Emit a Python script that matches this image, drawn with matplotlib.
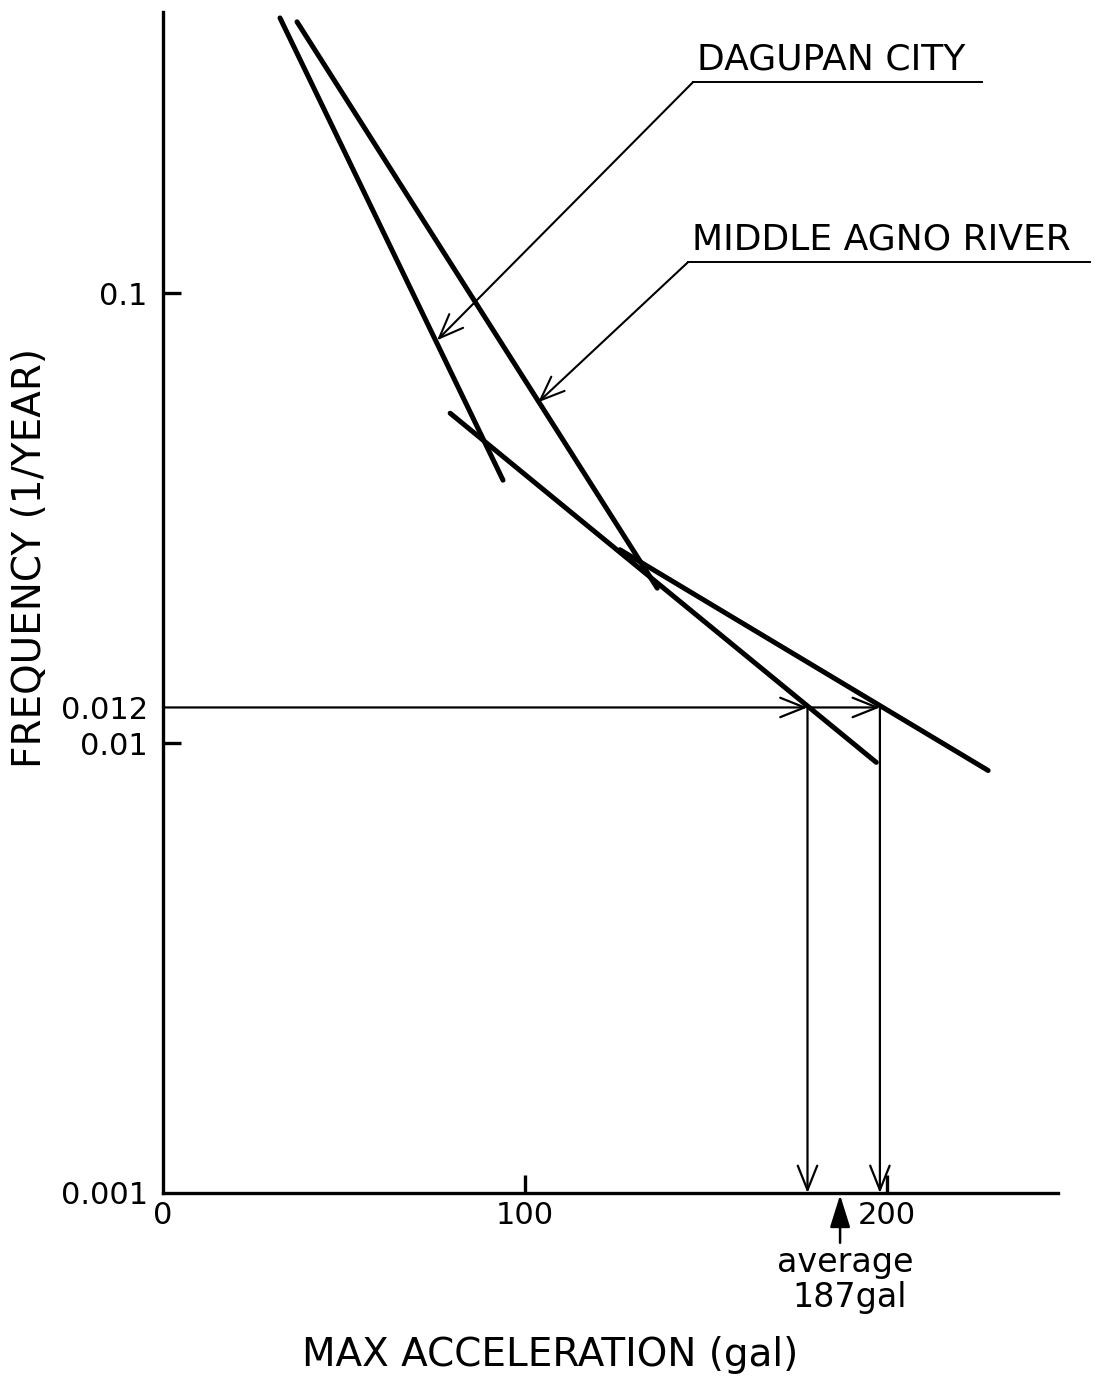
import matplotlib
matplotlib.use("Agg")
import matplotlib.pyplot as plt

plt.rcParams['font.family'] = ['DejaVu Sans']

# fitted lines (max acceleration in gal, frequency per year)
dagupan_upper_x = [32.3, 93.9]
dagupan_upper_y = [0.409, 0.0384]
dagupan_lower_x = [79.3, 197.0]
dagupan_lower_y = [0.0541, 0.00906]
agno_upper_x = [37.0, 136.5]
agno_upper_y = [0.401, 0.0221]
agno_lower_x = [126.2, 227.9]
agno_lower_y = [0.0269, 0.00869]

design_freq = 0.012
dagupan_acc = 178
agno_acc = 198
average_acc = 187

xticks = [0, 100, 200]
xtick_labels = ['0', '100', '200']
yticks = [0.001, 0.01, 0.012, 0.1]
ytick_labels = ['0.001', '0.01', '0.012', '0.1']

fig = plt.figure(figsize=(10.98, 13.76), dpi=100)
ax = fig.add_axes([0.1485, 0.1330, 0.8151, 0.8583])

ax.set_yscale('log')
ax.set_xlim(0, 247.2)
ax.set_ylim(0.001, 0.4217)

for s in ['top', 'right']:
    ax.spines[s].set_visible(False)
for s in ['left', 'bottom']:
    ax.spines[s].set_linewidth(2.4)

ax.set_xticks(xticks)
ax.set_xticklabels(xtick_labels)
ax.set_yticks(yticks)
ax.set_yticklabels(ytick_labels)
ax.minorticks_off()
ax.tick_params(direction='in', length=13, width=2.4, labelsize=22, pad=6)
ax.tick_params(axis='y', pad=11)
for t in ax.xaxis.get_major_ticks():
    if t.get_loc() == 0:
        t.tick1line.set_visible(False)
for t in ax.yaxis.get_major_ticks():
    if t.get_loc() in (0.001, 0.012):
        t.tick1line.set_visible(False)

lw = 3.6
for xs, ys in [(dagupan_upper_x, dagupan_upper_y), (dagupan_lower_x, dagupan_lower_y),
               (agno_upper_x, agno_upper_y), (agno_lower_x, agno_lower_y)]:
    ax.plot(xs, ys, color='black', lw=lw, solid_capstyle='round')

arr = dict(arrowstyle='->,head_length=0.7,head_width=0.28', color='black',
           lw=1.6, mutation_scale=25, shrinkA=0, shrinkB=0)

# 0.012 level -> accelerations
ax.annotate('', xy=(dagupan_acc, design_freq), xytext=(0, design_freq), arrowprops=arr)
ax.annotate('', xy=(agno_acc, design_freq), xytext=(dagupan_acc, design_freq), arrowprops=arr)
ax.annotate('', xy=(dagupan_acc, 0.001), xytext=(dagupan_acc, design_freq), arrowprops=arr)
ax.annotate('', xy=(agno_acc, 0.001), xytext=(agno_acc, design_freq), arrowprops=arr)

# average marker below the axis
ax.annotate('', xy=(average_acc, 0.00099), xytext=(average_acc, 0.000775),
            arrowprops=dict(arrowstyle='-|>,head_length=0.8,head_width=0.25',
                            color='black', lw=1.8, mutation_scale=25,
                            shrinkA=0, shrinkB=0),
            annotation_clip=False)
ax.text(average_acc + 1.5, 0.000702, 'average', ha='center', va='center',
        fontsize=24, clip_on=False)
ax.text(average_acc + 2.5, 0.000587, '187gal', ha='center', va='center',
        fontsize=24, clip_on=False)

# site labels with leaders
labels = [('DAGUPAN CITY', 146.4, 0.2946, 226.2, 75.7, 0.0786),
          ('MIDDLE AGNO RIVER', 145.0, 0.1172, 256.0, 103.6, 0.0572)]
for name, x0, y0, x1, tx, ty in labels:
    ax.plot([x0, x1], [y0, y0], color='black', lw=1.4, clip_on=False)
    ax.text(x0 + 1, y0 * 1.03, name, ha='left', va='bottom', fontsize=26,
            clip_on=False)
    ax.annotate('', xy=(tx, ty), xytext=(x0, y0), arrowprops=dict(arr, lw=1.5),
                annotation_clip=False)

fig.text(30 / 1098, 1 - 558 / 1376, 'FREQUENCY (1/YEAR)', rotation=90,
         ha='center', va='center', fontsize=28)
fig.text(550 / 1098, 1 - 1355 / 1376, 'MAX ACCELERATION (gal)',
         ha='center', va='center', fontsize=28)

fig.savefig('out.png', dpi=100)
